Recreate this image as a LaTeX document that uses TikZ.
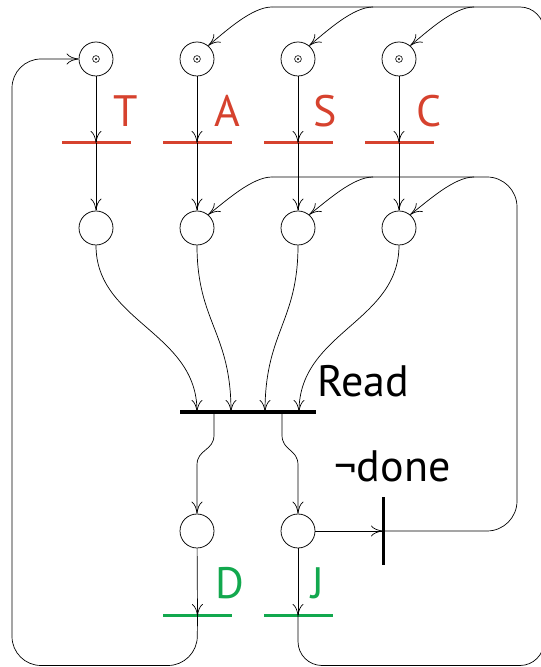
\documentclass[tikz,border=0pt]{standalone}
\usepackage{fontspec}
\setmainfont{PT Sans}
\usetikzlibrary{arrows.meta}
\definecolor{tred}{RGB}{214,66,46}
\definecolor{tgreen}{RGB}{18,168,78}
\begin{document}
\begin{tikzpicture}[x=1pt,y=1pt,
  place/.style={circle,draw,line width=0.75pt,minimum size=34pt,inner sep=0pt},
  hbar/.style={rectangle,inner sep=0pt,minimum width=69pt,minimum height=3pt},
  vbar/.style={rectangle,fill=black,inner sep=0pt,minimum width=3pt,minimum height=68pt},
  arc/.style={line width=0.7pt,-{To[length=12pt,width=11pt]}},
  line/.style={line width=0.7pt},
  lbl/.style={font=\fontsize{44}{48}\selectfont,inner sep=0pt,anchor=base}]
\useasboundingbox (0,0) rectangle (541,667);
% places and transitions
\node[place] (pT) at (96,608) {};
\node[place] (pA) at (197,608) {};
\node[place] (pS) at (298,608) {};
\node[place] (pC) at (399,608) {};
\foreach \p in {pT,pA,pS,pC}{
  \draw[line width=0.6pt] (\p) circle (3.4);
  \fill (\p) circle (1.2);
}
\node[hbar,fill=tred] (tT) at (96,524) {};
\node[hbar,fill=tred] (tA) at (197,524) {};
\node[hbar,fill=tred] (tS) at (298,524) {};
\node[hbar,fill=tred] (tC) at (399,524) {};
\node[place] (mT) at (96,439) {};
\node[place] (mA) at (197,439) {};
\node[place] (mS) at (298,439) {};
\node[place] (mC) at (399,439) {};
\node[rectangle,fill=black,inner sep=0pt,minimum width=136pt,minimum height=3.2pt] (read) at (248,255) {};
\node[place] (pD) at (197,136) {};
\node[place] (pJ) at (298,136) {};
\node[hbar,fill=tgreen] (tD) at (197.5,51) {};
\node[hbar,fill=tgreen] (tJ) at (298,51) {};
\node[vbar] (nd) at (383,136) {};
% labels
\node[lbl,text=tred] (lT) at (126,540) {T};
\node[lbl,text=tred] (lA) at (227,540) {A};
\node[lbl,text=tred] (lS) at (325.5,540) {S};
\node[lbl,text=tred] (lC) at (429,540) {C};
\node[lbl] (lR) at (363,270) {Read};
\node[lbl] (lN) at (392.5,185) {¬done};
\node[lbl,text=tgreen] (lD) at (229.5,68) {D};
\node[lbl,text=tgreen] (lJ) at (318,68) {J};
% coordinates
\coordinate (r1) at (197,255);
\coordinate (r2) at (231,255);
\coordinate (r3) at (265,255);
\coordinate (r4) at (299,255);
\coordinate (o1) at (214,255);
\coordinate (o2) at (282,255);
\coordinate (aT) at (272,660);
\coordinate (sT) at (373,660);
\coordinate (cT) at (474,660);
\coordinate (aM) at (272,490);
\coordinate (sM) at (373,490);
\coordinate (cM) at (474,490);
% vertical arcs
\foreach \a in {T,A,S,C}{
  \draw[arc] (p\a) -- (t\a.center);
  \draw[arc] (t\a.center) -- (m\a);
}
\draw[arc] (mT.south) .. controls (96,345) and (197,335) .. (r1);
\draw[arc] (mA.south) .. controls (197,345) and (231,335) .. (r2);
\draw[arc] (mS.south) .. controls (298,345) and (265,335) .. (r3);
\draw[arc] (mC.south) .. controls (399,345) and (299,335) .. (r4);
\draw[arc] (o1) -- (214,232) .. controls (214,216) and (197,218) .. (197,202) -- (pD);
\draw[arc] (o2) -- (282,232) .. controls (282,216) and (298,218) .. (298,202) -- (pJ);
\draw[arc] (pD) -- (tD.center);
\draw[arc] (pJ) -- (tJ.center);
\draw[arc] (pJ) -- (nd.center);
% loops
\draw[arc,rounded corners=29pt] (tD.center) -- (197,1.5) -- (12,1.5) -- (12,608) -- (pT);
\draw[line,rounded corners=24pt] (tJ.center) -- (298,1.5) -- (544,1.5) -- (544,660) -- (aT);
\draw[arc] (aT) .. controls (252,660) and (226,636) .. (pA.50);
\draw[arc] (sT) .. controls (353,660) and (327,636) .. (pS.50);
\draw[arc] (cT) .. controls (454,660) and (428,636) .. (pC.50);
\draw[line,rounded corners=30pt] (nd.center) -- (517,136) -- (517,490) -- (aM);
\draw[arc] (aM) .. controls (252,490) and (226,466) .. (mA.50);
\draw[arc] (sM) .. controls (353,490) and (327,466) .. (mS.50);
\draw[arc] (cM) .. controls (454,490) and (428,466) .. (mC.50);
\end{tikzpicture}
\end{document}
